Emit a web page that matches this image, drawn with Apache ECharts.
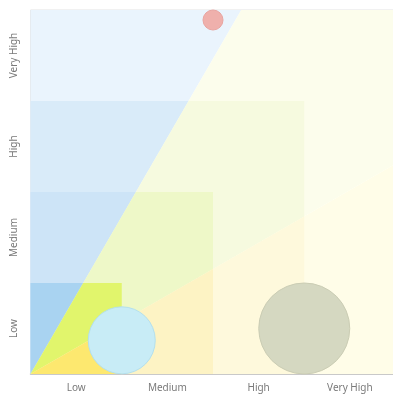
<!DOCTYPE html>
<html><head><meta charset="utf-8">
<script src="https://cdn.jsdelivr.net/npm/echarts@6/dist/echarts.min.js"></script>
<style>html,body{margin:0;padding:0;background:#fff}#c{width:393px;height:394px}</style>
</head><body><div id="c"></div>
<script>
var levels = ['Low', 'Medium', 'High', 'Very High'];
var squareSizes = [4, 3, 2, 1];
var steepSlope = Math.sqrt(3);
var bubbles = [
  [1, 0.37, 67],
  [3, 0.5, 91],
  [2, 3.89, 20]
];
var squareColors = [
  ['#eaf4fd', '#fcfdec', '#fffde8'],
  ['#d9ebf9', '#f6fadf', '#fef9dc'],
  ['#cde4f7', '#eef8c8', '#fdf3c4'],
  ['#a9d3f1', '#e1f56c', '#fde86f']
];
var bubbleColors = ['#c8ecf6', '#d5d8c1', '#efb0ac'];
var bubbleBorders = ['#b3e0ee', '#cbcdb4', '#e9a5a1'];

var polys = [];
squareSizes.forEach(function (s, i) {
  var k = s / steepSlope;
  polys.push({ pts: [[0, 0], [k, s], [0, s]], color: squareColors[i][0] });
  polys.push({ pts: [[0, 0], [s, k], [s, s], [k, s]], color: squareColors[i][1] });
  polys.push({ pts: [[0, 0], [s, 0], [s, k]], color: squareColors[i][2] });
});

var chart = echarts.init(document.getElementById('c'));
var labelFont = { color: '#7a7a7a', fontSize: 10, fontFamily: 'Noto Sans' };
chart.setOption({
  animation: false,
  grid: { left: 30.5, top: 10, width: 365, height: 364, show: true, borderColor: '#e2e2e2', borderWidth: 1, outerBoundsMode: 'none', containLabel: false },
  xAxis: {
    type: 'value', min: 0, max: 4, interval: 0.5,
    axisLine: { show: true, lineStyle: { color: '#bdbdbd', width: 1.5 } },
    axisTick: { show: false }, splitLine: { show: false },
    axisLabel: Object.assign({ margin: 9, formatter: function (v) { return (v % 1 === 0.5) ? levels[Math.floor(v)] : ''; } }, labelFont)
  },
  yAxis: {
    type: 'value', min: 0, max: 4, interval: 0.5,
    axisLine: { show: false }, axisTick: { show: false }, splitLine: { show: false },
    axisLabel: Object.assign({ rotate: 90, margin: 11, formatter: function (v) { return (v % 1 === 0.5) ? levels[Math.floor(v)] : ''; } }, labelFont)
  },
  series: [
    {
      type: 'custom', coordinateSystem: 'cartesian2d', silent: true, clip: false,
      data: polys.map(function (p, i) { return [i]; }),
      renderItem: function (params, api) {
        var p = polys[params.dataIndex];
        return { type: 'polygon', shape: { points: p.pts.map(function (q) { return api.coord(q); }) }, style: { fill: p.color } };
      },
      z: 1
    },
    {
      type: 'scatter', z: 3,
      data: bubbles.map(function (b, i) {
        return { value: [b[0], b[1]], symbolSize: b[2], itemStyle: { color: bubbleColors[i], borderColor: bubbleBorders[i], borderWidth: 1, opacity: 1 } };
      })
    }
  ]
});
</script></body></html>
